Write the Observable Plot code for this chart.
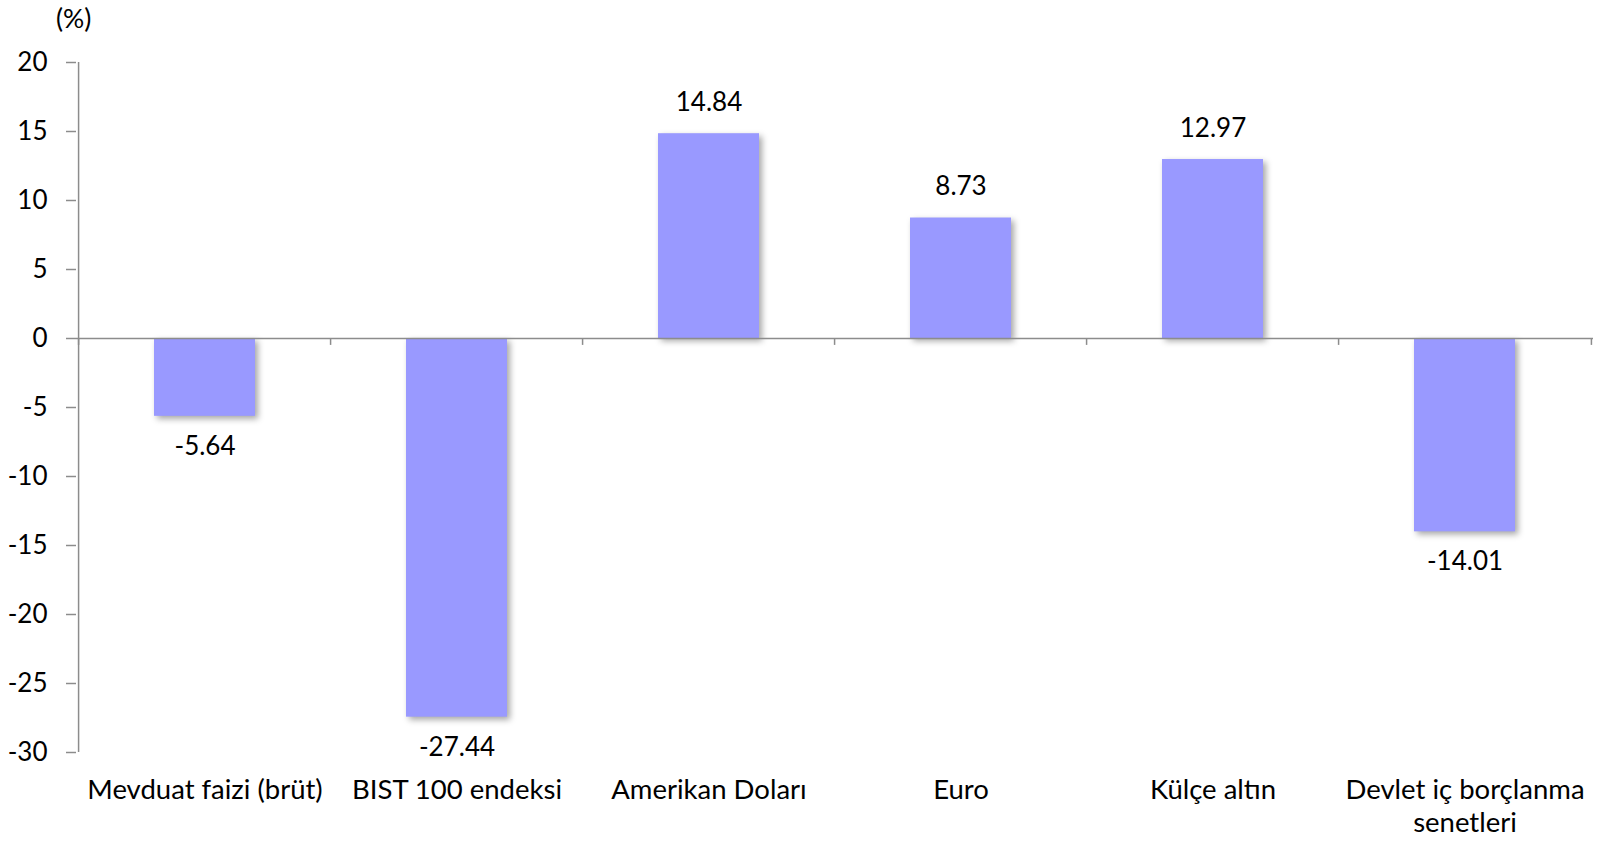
<!DOCTYPE html>
<html>
<head>
<meta charset="utf-8">
<script src="https://cdn.jsdelivr.net/npm/d3@7"></script>
<script src="https://cdn.jsdelivr.net/npm/@observablehq/plot@0.6"></script>
<style>
  html, body { margin: 0; padding: 0; background: #fff; }
  #unit { height: 36px; font-family: Lato, "Noto Sans", sans-serif; font-size: 26.5px; line-height: 36px; padding-left: 56px; color: #000; }
  #chart svg { display: block; }
</style>
</head>
<body>
<div id="unit">(%)</div>
<div id="chart"></div>
<script>
const categories = ["Mevduat faizi (brüt)", "BIST 100 endeksi", "Amerikan Doları", "Euro", "Külçe altın", "Devlet iç borçlanma\nsenetleri"];
const values = [-5.64, -27.44, 14.84, 8.73, 12.97, -14.01];
const yTicks = [20, 15, 10, 5, 0, -5, -10, -15, -20, -25, -30];

const data = categories.map((c, i) => ({category: c, value: values[i]}));

const W = 1597, H = 806;
const mL = 76, mR = 4, mT = 26, mB = 90;
const step = (W - mL - mR) / categories.length;
const axisColor = "#8c8c8c";

const plot = Plot.plot({
  width: W,
  height: H,
  marginLeft: mL,
  marginRight: mR,
  marginTop: mT,
  marginBottom: mB,
  style: {fontFamily: "Lato, 'Noto Sans', sans-serif", fontSize: "26px", color: "#000", background: "#fff"},
  x: {domain: categories, paddingInner: 0.6, paddingOuter: 0.3, axis: null},
  y: {domain: [-30, 20]},
  marks: [
    Plot.barY(data, {x: "category", y: "value", fill: "#9999ff"}),
    Plot.ruleY([0], {stroke: axisColor, strokeWidth: 1.5}),
    Plot.ruleX([categories[0]], {x: d => d, y1: -30, y2: 20, dx: -step / 2, stroke: axisColor, strokeWidth: 1.5}),
    Plot.ruleX(categories, {x: d => d, y1: 0, y2: -0.5, dx: -step / 2, stroke: axisColor, strokeWidth: 1.5}),
    Plot.ruleX([categories[categories.length - 1]], {x: d => d, y1: 0, y2: -0.5, dx: step / 2, stroke: axisColor, strokeWidth: 1.5}),
    Plot.axisY({ticks: yTicks, tickSize: 10, tickPadding: 19, stroke: axisColor, strokeWidth: 1.5, tickFormat: d => String(d), label: null, fill: "#000", fontSize: 26}),
    Plot.text(data.filter(d => d.value >= 0), {x: "category", y: "value", text: d => d.value.toFixed(2), dy: -31, fill: "#000", fontSize: 26}),
    Plot.text(data.filter(d => d.value < 0), {x: "category", y: "value", text: d => d.value.toFixed(2), dy: 30, fill: "#000", fontSize: 26}),
    Plot.text(categories, {x: d => d, text: d => d, frameAnchor: "bottom", lineAnchor: "top", dy: 23, lineHeight: 1.2, fill: "#000", fontSize: 27.5})
  ]
});

const barG = plot.querySelector('g[aria-label="bar"]');
if (barG) barG.style.filter = "drop-shadow(3px 3px 3px rgba(0,0,0,0.35))";
document.getElementById("chart").appendChild(plot);
</script>
</body>
</html>
